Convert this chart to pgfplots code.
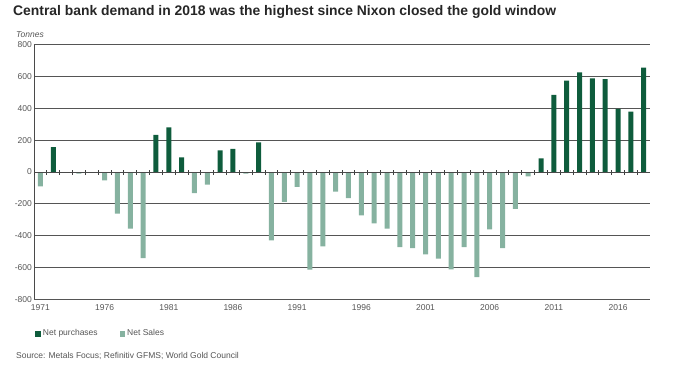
\documentclass[border=0pt]{standalone}
\usepackage{pgfplots}
\pgfplotsset{compat=1.18}
\usepackage{fontspec}
\setmainfont{Liberation Sans}
\definecolor{dkgreen}{HTML}{0E5C3C}
\definecolor{ltgreen}{HTML}{86B2A0}
\definecolor{txt}{HTML}{555555}
\definecolor{gridc}{HTML}{6A6A6A}
\begin{document}
\begin{tikzpicture}
\path (0pt,0pt) rectangle (678pt,372pt);
\node[anchor=base west, font=\fontsize{13.9}{15}\selectfont\bfseries, text=black!85, inner sep=0] at (13pt,356pt) {Central bank demand in 2018 was the highest since Nixon closed the gold window};
\node[anchor=west, font=\fontsize{8.5}{9}\selectfont\itshape, text=txt, inner sep=0] at (16pt,337pt) {Tonnes};
\node[anchor=west, font=\fontsize{8.5}{9}\selectfont, text=txt, inner sep=0] at (16pt,16pt) {Source: Metals Focus; Refinitiv GFMS; World Gold Council};
\begin{axis}[at={(34pt,72.7pt)}, anchor=south west, scale only axis,
  width=615.5pt, height=254.6pt,
  xmin=1970.5, xmax=2018.45, ymin=-800, ymax=800,
  axis x line*=bottom, x axis line style={draw=none},
  axis y line*=left, y axis line style={-, gridc!70!black, line width=0.8pt},
  xtick={1971,1976,...,2016}, ytick={-800,-600,...,800},
  major tick length=0pt,
  ymajorgrids, grid style={dash pattern=on 0.4pt off 0.6pt, gridc!80!black, line width=0.8pt},
  xticklabel style={font=\fontsize{8.5}{9}\selectfont, text=txt, yshift=-2pt},
  yticklabel style={font=\fontsize{8.5}{9}\selectfont, text=txt, inner xsep=2pt},
  /pgf/number format/assume math mode=true, /pgf/number format/1000 sep={},
  legend style={at={(axis description cs:0.002,-0.135)}, anchor=west, draw=none, fill=none, inner sep=0pt,
    font=\fontsize{8.5}{9}\selectfont, text=txt, legend columns=2,
    /tikz/every even column/.append style={column sep=20pt}},
]
\addplot[ybar, bar width=5pt, bar shift=0pt, fill=dkgreen, draw=none,
  legend image code/.code={\fill[dkgreen] (0pt,-3pt) rectangle (5.5pt,3pt);}]
  coordinates {(1972,157) (1980,234) (1981,281) (1982,92) (1985,136) (1986,146) (1988,186)
  (2010,86) (2011,484) (2012,574) (2013,626) (2014,588) (2015,584) (2016,396) (2017,379) (2018,656)};
\addlegendentry{Net purchases}
\addplot[ybar, bar width=5pt, bar shift=0pt, fill=ltgreen, draw=none,
  legend image code/.code={\fill[ltgreen] (0pt,-3pt) rectangle (5.5pt,3pt);}]
  coordinates {(1971,-90) (1974,-10) (1976,-53) (1977,-262) (1978,-356) (1979,-541) (1983,-132) (1984,-80)
  (1987,-10) (1989,-430) (1990,-187) (1991,-94) (1992,-614) (1993,-467) (1994,-124) (1995,-164)
  (1996,-273) (1997,-323) (1998,-356) (1999,-472) (2000,-478) (2001,-518) (2002,-545) (2003,-612)
  (2004,-472) (2005,-660) (2006,-361) (2007,-478) (2008,-231) (2009,-28)};
\addlegendentry{Net Sales}
\end{axis}
\begin{axis}[at={(34pt,72.7pt)}, anchor=south west, scale only axis,
  width=615.5pt, height=254.6pt,
  xmin=1970.5, xmax=2018.45, ymin=-800, ymax=800,
  axis x line=middle, axis y line=none,
  xtick={1970.5,1971.5,...,2018.5}, xticklabels={}, ytick=\empty,
  major tick length=5pt, tick align=center,
  x axis line style={-, gridc!70!black, line width=0.8pt},
  tick style={gridc!60!black, line width=0.8pt},
]
\end{axis}
\end{tikzpicture}
\end{document}
